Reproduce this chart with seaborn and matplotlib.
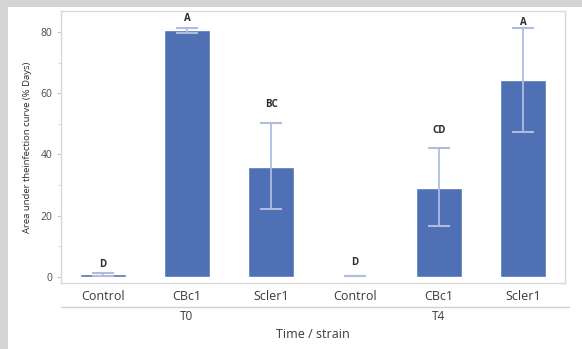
import numpy as np
import pandas as pd
import seaborn as sns
import matplotlib.pyplot as plt
from matplotlib.patches import Rectangle

# values
times = ["T0", "T0", "T0", "T4", "T4", "T4"]
strains = ["Control", "CBc1", "Scler1", "Control", "CBc1", "Scler1"]
auc_mean = [0.8, 80.6, 35.9, 0.3, 29.1, 64.3]
err_low = [0.3, 79.6, 22.2, 0.2, 16.7, 47.3]
err_high = [1.2, 81.4, 50.3, 0.4, 42.1, 81.3]
letters = ["D", "A", "BC", "D", "CD", "A"]
letter_y = [3.9, 84.6, 56.2, 4.6, 48.0, 83.3]
groups = ["T0", "T4"]

df = pd.DataFrame({"slot": [f"{t}_{s}" for t, s in zip(times, strains)],
                   "strain": strains, "time": times, "auc": auc_mean})

sns.set_style("white")
plt.rcParams['font.family'] = ['Open Sans', 'DejaVu Sans']

fig = plt.figure(figsize=(5.82, 3.49), dpi=100)
fig.patch.set_facecolor("#d3d4d6")
fig.patches.append(Rectangle((8 / 582, 0), 1, 1 - 7 / 349, transform=fig.transFigure,
                             facecolor="white", edgecolor="none", zorder=-10))

W, H = 582, 349
ax = fig.add_axes([61 / W, (H - 283) / H, 504 / W, 272 / H])
ax.set_zorder(1)
ax.set_facecolor("white")

bar_color = "#5070b6"
sns.barplot(data=df, x="slot", y="auc", color=bar_color, saturation=1,
            width=0.55, errorbar=None, ax=ax, zorder=2)

x = np.arange(len(strains))
mean = np.array(auc_mean)
yerr = np.vstack([mean - np.array(err_low), np.array(err_high) - mean])
ax.errorbar(x, mean, yerr=yerr, fmt="none", ecolor="#b0bbdf", elinewidth=1.3,
            capsize=8, capthick=1.5, zorder=3)

for xi, lab, ly in zip(x, letters, letter_y):
    ax.text(xi, ly, lab, ha="center", va="center", fontsize=7,
            fontweight="bold", color="#2b2b2b")

ax.set_xlim(-0.5, 5.5)
ax.set_ylim(-2.0, 86.9)
ax.set_yticks([0, 20, 40, 60, 80])
ax.set_yticks([10, 30, 50, 70], minor=True)
ax.tick_params(axis="y", which="major", left=True, length=3, color="#c8c8c8",
               labelsize=7.5, labelcolor="#4a4a4a", pad=3)
ax.tick_params(axis="y", which="minor", left=True, length=2, color="#d0d0d0")
ax.set_xticks(x)
ax.set_xticklabels(strains)
ax.tick_params(axis="x", length=0, labelsize=9, labelcolor="#3a3a3a", pad=5)
for s in ax.spines.values():
    s.set_color("#d8d8d8")
    s.set_linewidth(1.0)

ax.set_xlabel("")
ax.set_ylabel("Area under theinfection curve (% Days)", fontsize=6.8,
              color="#2b2b2b", labelpad=6)

# group separator line and group labels
ax.plot([-0.5, 5.55], [-0.09, -0.09], transform=ax.get_xaxis_transform(),
        color="#d0d0d0", lw=1.0, clip_on=False)
for gi, g in enumerate(groups):
    ax.text(1 + 3 * gi, -0.123, g, transform=ax.get_xaxis_transform(),
            ha="center", va="center", fontsize=8.5, color="#3a3a3a")
ax.text(2.5, -0.19, "Time / strain", transform=ax.get_xaxis_transform(),
        ha="center", va="center", fontsize=9, color="#3a3a3a")

fig.savefig("out.png", dpi=100)
